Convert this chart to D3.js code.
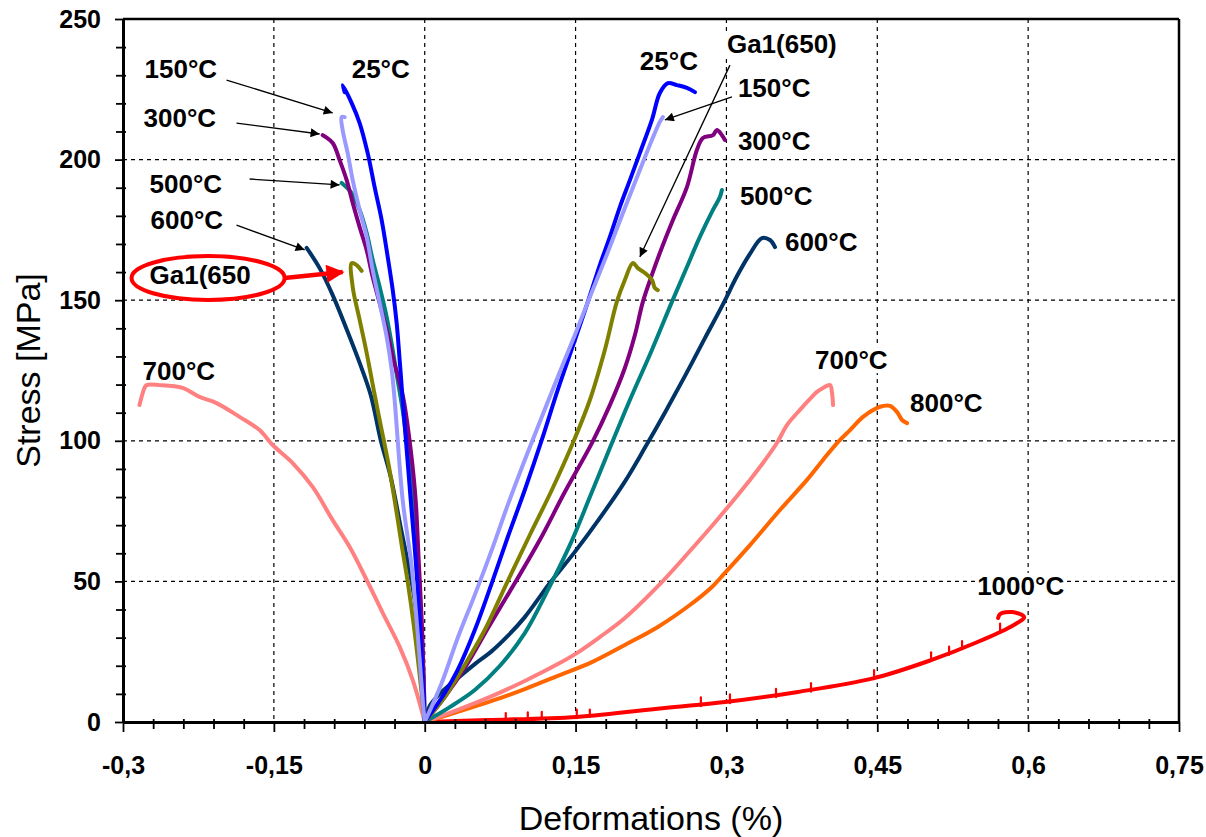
<!DOCTYPE html>
<html>
<head>
<meta charset="utf-8">
<script src="https://cdn.jsdelivr.net/npm/d3@7"></script>
<style>
body { margin: 0; background: #fff; }
text { font-family: Arial, "Liberation Sans", sans-serif; fill: #000; }
</style>
</head>
<body>
<svg id="chart" width="1206" height="837"></svg>
<script>
// axis ticks
const xMajor = [-0.3, -0.15, 0, 0.15, 0.3, 0.45, 0.6, 0.75];
const xTickLabels = ["-0,3", "-0,15", "0", "0,15", "0,3", "0,45", "0,6", "0,75"];
const yMajor = [0, 50, 100, 150, 200, 250];
const yTickLabels = ["0", "50", "100", "150", "200", "250"];

// compression branches [strain %, stress MPa], from the origin outwards
const comp25 = [[0,0],[-0.002,14.9],[-0.005,36.3],[-0.009,57.6],[-0.0139,78.9],[-0.0179,96.7],[-0.0219,114.5],[-0.0249,128.7],[-0.0279,141.9],[-0.0318,153.6],[-0.0368,165.4],[-0.0428,178.5],[-0.0498,190.2],[-0.0567,202.3],[-0.0647,213.0],[-0.0726,220.1],[-0.0816,226.5],[-0.0796,224.0]];
const comp150 = [[0,0],[-0.002,7.8],[-0.007,31.6],[-0.0129,55.1],[-0.0219,78.9],[-0.0299,114.5],[-0.0328,125.2],[-0.0378,136.9],[-0.0448,149.0],[-0.0517,160.7],[-0.0577,172.5],[-0.0647,182.1],[-0.0716,192.7],[-0.0766,202.3],[-0.0816,210.5],[-0.0826,215.1],[-0.0796,215.1]];
const comp300 = [[0,0],[-0.001,14.9],[-0.003,36.3],[-0.006,57.6],[-0.009,78.9],[-0.0139,96.7],[-0.0209,114.5],[-0.0269,123.4],[-0.0318,129.8],[-0.0378,139.4],[-0.0448,149.0],[-0.0517,158.2],[-0.0577,167.8],[-0.0647,176.0],[-0.0716,184.6],[-0.0776,192.7],[-0.0846,199.8],[-0.0915,205.9],[-0.1015,208.7]];
const comp500 = [[0,0],[-0.001,14.9],[-0.004,36.3],[-0.007,57.6],[-0.0119,78.9],[-0.0169,96.7],[-0.0219,110.9],[-0.0269,121.6],[-0.0318,132.3],[-0.0378,144.0],[-0.0448,154.7],[-0.0517,164.3],[-0.0577,173.9],[-0.0647,182.1],[-0.0726,188.1],[-0.0826,191.7]];
const comp600 = [[0,0],[-0.002,11.4],[-0.006,29.2],[-0.010,43.4],[-0.0159,55.1],[-0.0239,69.3],[-0.0338,87.1],[-0.0438,100.3],[-0.0537,116.3],[-0.0647,127.7],[-0.0746,136.9],[-0.0915,151.8],[-0.1045,161.4],[-0.1174,168.6]];
const compGa = [[0,0],[-0.005,16.7],[-0.0109,34.5],[-0.0169,49.8],[-0.0229,62.9],[-0.0299,78.9],[-0.0368,93.2],[-0.0438,105.6],[-0.0507,118.1],[-0.0577,131.2],[-0.0647,143.0],[-0.0716,154.7],[-0.0726,163.2],[-0.0677,162.5],[-0.0627,160.4]];
const comp700 = [[0,0],[-0.0119,14.9],[-0.0249,26.7],[-0.0418,38.8],[-0.0577,50.5],[-0.0746,62.2],[-0.0915,71.8],[-0.1114,83.6],[-0.1313,92.1],[-0.1512,98.5],[-0.1642,103.8],[-0.1841,108.5],[-0.2070,113.4],[-0.2239,115.6],[-0.2408,118.8],[-0.2637,119.8],[-0.2766,119.8],[-0.2786,118.8],[-0.2836,112.7]];

// tension branches
const tens25 = [[0,0],[0.0199,10.3],[0.0328,18.5],[0.0498,32.7],[0.0667,49.4],[0.0826,65.8],[0.0995,82.5],[0.1164,100.3],[0.1323,118.1],[0.1493,135.8],[0.1622,149.4],[0.1741,162.5],[0.1841,172.5],[0.1940,183.1],[0.2040,192.7],[0.2139,202.3],[0.2259,214.1],[0.2338,223.7],[0.2418,227.2],[0.2507,226.5],[0.2607,225.5],[0.2687,224.0]];
const tens150 = [[0,0],[0.0169,13.9],[0.0328,29.9],[0.0498,45.2],[0.0667,61.2],[0.0826,77.2],[0.0995,93.2],[0.1164,108.5],[0.1323,122.7],[0.1493,137.6],[0.1662,152.9],[0.1821,167.1],[0.1990,182.8],[0.2139,196.3],[0.2259,207.0],[0.2338,213.4],[0.2368,215.1]];
const tens300 = [[0,0],[0.0199,8.9],[0.0398,19.2],[0.0647,34.5],[0.0896,49.4],[0.1144,64.7],[0.1393,81.8],[0.1662,99.2],[0.1841,112.7],[0.1990,125.9],[0.2090,137.6],[0.2169,149.4],[0.2259,159.0],[0.2338,166.8],[0.2468,178.5],[0.2607,190.2],[0.2706,203.4],[0.2766,207.7],[0.2866,208.7],[0.2905,210.5],[0.2955,208.7],[0.2985,207.0]];
const tens500 = [[0,0],[0.0249,5.3],[0.0498,11.4],[0.0746,19.9],[0.0995,31.6],[0.1224,46.9],[0.1443,62.9],[0.1642,80.0],[0.1841,97.4],[0.2040,114.5],[0.2259,132.3],[0.2458,149.4],[0.2607,161.8],[0.2736,172.5],[0.2866,182.1],[0.2935,186.7],[0.2955,189.2]];
const tens600 = [[0,0],[0.0050,5.7],[0.0149,10.0],[0.0328,15.6],[0.0498,20.6],[0.0667,25.2],[0.0826,30.6],[0.0995,37.3],[0.1144,44.5],[0.1244,49.4],[0.1493,60.5],[0.1741,72.5],[0.1990,85.5],[0.2189,97.5],[0.2388,110.0],[0.2587,123.0],[0.2786,136.5],[0.2965,148.5],[0.3104,158.5],[0.3234,166.5],[0.3353,172.1],[0.3433,171.4],[0.3483,168.9]];
const tensGa = [[0,0],[0.0199,8.9],[0.0398,20.3],[0.0597,32.7],[0.0816,49.4],[0.1045,66.5],[0.1264,82.5],[0.1473,99.2],[0.1642,114.5],[0.1791,132.3],[0.1910,149.4],[0.1990,157.2],[0.2070,163.2],[0.2119,161.4],[0.2189,159.7],[0.2259,157.2],[0.2289,154.3],[0.2318,153.6]];
const tens700 = [[0,0],[0.0328,4.3],[0.0667,9.2],[0.0995,14.6],[0.1323,20.6],[0.1512,24.5],[0.1741,30.2],[0.1990,37.0],[0.2348,49.4],[0.2637,60.8],[0.2915,72.2],[0.3234,86.1],[0.3363,92.1],[0.3502,99.2],[0.3602,105.6],[0.3731,111.0],[0.3831,114.9],[0.3900,117.4],[0.3960,118.8],[0.4030,119.8],[0.4050,117.0],[0.4060,112.7]];
const tens800 = [[0,0],[0.0328,3.6],[0.0667,7.5],[0.0995,11.7],[0.1323,16.4],[0.1662,21.3],[0.1990,27.4],[0.2318,33.8],[0.2637,41.6],[0.2856,48.0],[0.2985,53.0],[0.3234,62.9],[0.3532,75.4],[0.3801,86.1],[0.3960,93.2],[0.4100,99.2],[0.4229,103.8],[0.4358,108.5],[0.4498,111.7],[0.4557,112.4],[0.4627,112.4],[0.4697,110.2],[0.4746,107.4],[0.4796,106.3]];
const tens1000 = [[0,0],[0.0627,0.7],[0.1512,1.8],[0.2388,5.0],[0.2985,7.1],[0.3711,10.7],[0.4468,15.6],[0.5035,22.0],[0.5473,28.1],[0.5821,33.8],[0.5960,37.3],[0.5841,39.1],[0.5721,38.4],[0.5701,37.0]];
// small load drops on the 1000°C curve [strain, low, high]
const spikes1000 = [[0.0806,0.8,3.2],[0.1025,1.0,3.4],[0.1164,1.2,3.6],[0.1512,1.4,4.4],[0.1642,1.9,4.4],[0.2746,5.6,8.8],[0.3035,6.7,9.8],[0.3493,8.8,11.8],[0.3841,10.8,13.8],[0.4468,15.2,18.5],[0.5035,21.6,24.8],[0.5214,23.9,26.8],[0.5343,25.9,28.8],[0.5721,32.1,35.0]];

// annotations
const labels = [
  ["150°C", -0.2786, 229.0], ["25°C", -0.0726, 229.0], ["300°C", -0.2796, 211.6], ["500°C", -0.2736, 188.1],
  ["600°C", -0.2726, 175.3], ["Ga1(650", -0.2736, 155.8], ["700°C", -0.2806, 121.6],
  ["25°C", 0.2139, 231.9], ["Ga1(650)", 0.3005, 237.9], ["150°C", 0.3114, 222.3], ["300°C", 0.3114, 203.4],
  ["500°C", 0.3134, 183.9], ["600°C", 0.3582, 167.5], ["700°C", 0.3881, 125.5], ["800°C", 0.4826, 110.2],
  ["1000°C", 0.5493, 45.2]
];
const arrows = [[-0.1970,228.3,-0.0915,216.6],[-0.1871,213.0,-0.1045,209.1],[-0.1741,193.1,-0.0846,191.0],
  [-0.1871,176.7,-0.1194,167.9],[-0.1522,157.9,-0.0826,159.7],[0.3055,222.3,0.2388,214.1],[0.3035,233.6,0.2139,165.4]];
const redArrow = [-0.1393, 157.9, -0.0816, 160.0];
const redEllipse = [-0.2154, 157.9, 0.0761, 7.8];

const series = [
  { color: "#FF0000", parts: [tens1000] },
  { color: "#FF6600", parts: [tens800] },
  { color: "#FF8080", parts: [comp700, tens700] },
  { color: "#003366", parts: [comp600, tens600] },
  { color: "#008080", parts: [comp500, tens500] },
  { color: "#800080", parts: [comp300, tens300] },
  { color: "#808000", parts: [compGa, tensGa] },
  { color: "#0000FF", parts: [comp25, tens25] },
  { color: "#9999FF", parts: [comp150, tens150] }
];

const svg = d3.select("#chart");
const x = d3.scaleLinear().domain([-0.3, 0.75]).range([123, 1179]);
const y = d3.scaleLinear().domain([0, 250]).range([722, 19]);

const defs = svg.append("defs");
defs.append("marker").attr("id", "ah").attr("viewBox", "0 0 10 10").attr("refX", 10).attr("refY", 5)
  .attr("markerWidth", 13).attr("markerHeight", 9).attr("markerUnits", "userSpaceOnUse").attr("orient", "auto")
  .append("path").attr("d", "M0,0L10,5L0,10z").attr("fill", "#000");
defs.append("marker").attr("id", "ahRed").attr("viewBox", "0 0 10 10").attr("refX", 9).attr("refY", 5)
  .attr("markerWidth", 20).attr("markerHeight", 18).attr("markerUnits", "userSpaceOnUse").attr("orient", "auto")
  .append("path").attr("d", "M0,0L10,5L0,10z").attr("fill", "#FF0000");

// grid
const grid = svg.append("g");
grid.selectAll(".vg").data(xMajor.filter(d => d > -0.3 && d < 0.75)).join("line")
  .attr("x1", d => x(d)).attr("x2", d => x(d)).attr("y1", y(250)).attr("y2", y(0));
grid.selectAll(".hg").data(yMajor.filter(d => d > 0 && d < 250)).join("line")
  .attr("x1", x(-0.3)).attr("x2", x(0.75)).attr("y1", d => y(d)).attr("y2", d => y(d));
grid.selectAll("line").attr("stroke", "#000").attr("stroke-width", 1.2).attr("stroke-dasharray", "4,4");

// label boxes hide the grid behind the text
const labelBg = svg.append("g");

// curves
const line = d3.line().x(d => x(d[0])).y(d => y(d[1])).curve(d3.curveCatmullRom.alpha(0.5));
const curves = svg.append("g").attr("fill", "none").attr("stroke-width", 4)
  .attr("stroke-linejoin", "round").attr("stroke-linecap", "round");
series.forEach(s => {
  s.parts.forEach(p => {
    curves.append("path").attr("d", line(p)).attr("stroke", s.color);
  });
});
curves.selectAll(".sp").data(spikes1000).join("line")
  .attr("x1", d => x(d[0])).attr("x2", d => x(d[0]))
  .attr("y1", d => y(d[1])).attr("y2", d => y(d[2]))
  .attr("stroke", "#FF0000").attr("stroke-width", 2.2);

// black arrows
svg.append("g").selectAll("line").data(arrows).join("line")
  .attr("x1", d => x(d[0])).attr("y1", d => y(d[1]))
  .attr("x2", d => x(d[2])).attr("y2", d => y(d[3]))
  .attr("stroke", "#000").attr("stroke-width", 1.3).attr("marker-end", "url(#ah)");

// red ellipse + arrow
const ecx = x(redEllipse[0]), ecy = y(redEllipse[1]);
svg.append("ellipse").attr("cx", ecx).attr("cy", ecy)
  .attr("rx", x(redEllipse[0] + redEllipse[2]) - ecx).attr("ry", y(redEllipse[1] - redEllipse[3]) - ecy)
  .attr("fill", "#fff").attr("stroke", "#FF0000").attr("stroke-width", 4);
svg.append("line").attr("x1", x(redArrow[0])).attr("y1", y(redArrow[1]))
  .attr("x2", x(redArrow[2])).attr("y2", y(redArrow[3]))
  .attr("stroke", "#FF0000").attr("stroke-width", 4.5).attr("marker-end", "url(#ahRed)");

// labels
const lab = svg.append("g").selectAll("text").data(labels).join("text")
  .attr("x", d => x(d[1])).attr("y", d => y(d[2]))
  .style("font-size", "26px").style("font-weight", "bold").text(d => d[0]);
lab.each(function (d) {
  if (d[0] === "Ga1(650") return;
  const b = this.getBBox();
  labelBg.append("rect").attr("x", b.x - 2).attr("y", b.y + 2).attr("width", b.width + 4).attr("height", b.height - 4)
    .attr("fill", "#fff");
});

// axes
const yAxis = svg.append("g").attr("transform", "translate(" + x(-0.3) + ",0)")
  .call(d3.axisLeft(y).tickValues(yMajor).tickSize(8).tickSizeOuter(0).tickPadding(14)
    .tickFormat((d, i) => yTickLabels[i]));
const yMinor = svg.append("g").attr("transform", "translate(" + x(-0.3) + ",0)")
  .call(d3.axisLeft(y).tickValues(d3.range(10, 250, 10).filter(d => d % 50 !== 0)).tickSize(7).tickFormat(""));
yMinor.selectAll(".tick line").attr("x2", -7).attr("x1", 3);
yMinor.select(".domain").remove();

const xAxis = svg.append("g").attr("transform", "translate(0," + y(0) + ")")
  .call(d3.axisBottom(x).tickValues(xMajor).tickSize(10).tickSizeOuter(0)
    .tickFormat((d, i) => xTickLabels[i]));
xAxis.selectAll(".tick text").attr("y", 52).attr("dy", 0);
const xMinor = svg.append("g").attr("transform", "translate(0," + y(0) + ")")
  .call(d3.axisBottom(x).tickValues(d3.range(-0.27, 0.75, 0.03).filter(d => Math.abs(d / 0.15 - Math.round(d / 0.15)) > 0.01))
    .tickSize(7).tickFormat(""));
xMinor.selectAll(".tick line").attr("y1", -3);
xMinor.select(".domain").remove();

[yAxis, xAxis].forEach(a => {
  a.select(".domain").attr("stroke-width", 3);
  a.selectAll(".tick text").style("font-size", "25px").style("font-weight", "bold")
    .style("font-family", "Arial, 'Liberation Sans', sans-serif").attr("fill", "#000");
});
[yAxis, xAxis, yMinor, xMinor].forEach(a => a.selectAll(".tick line").attr("stroke-width", 1.8));

// frame top and right
svg.append("line").attr("x1", x(-0.3)).attr("x2", x(0.75)).attr("y1", y(250)).attr("y2", y(250))
  .attr("stroke", "#000").attr("stroke-width", 2.5);
svg.append("line").attr("x1", x(0.75)).attr("x2", x(0.75)).attr("y1", y(250)).attr("y2", y(0))
  .attr("stroke", "#000").attr("stroke-width", 2.5);

// axis titles
svg.append("text").attr("x", (x(-0.3) + x(0.75)) / 2).attr("y", 830).attr("text-anchor", "middle")
  .style("font-size", "34px").text("Deformations (%)");
svg.append("text").attr("transform", "translate(40," + (y(0) + y(250)) / 2 + ") rotate(-90)")
  .attr("text-anchor", "middle").style("font-size", "34px").text("Stress [MPa]");
</script>
</body>
</html>
